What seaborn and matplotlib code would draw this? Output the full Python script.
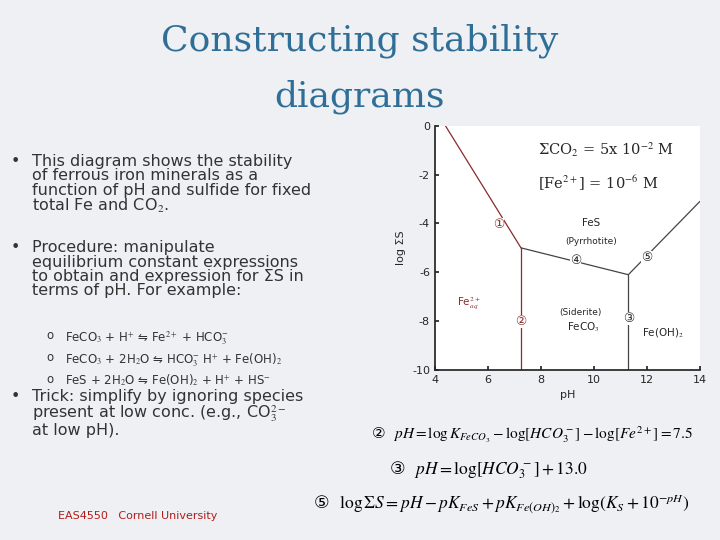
import matplotlib
matplotlib.use("Agg")
import matplotlib.pyplot as plt
import seaborn as sns

sns.set_theme(style="ticks")
plt.rcParams['font.family'] = ['DejaVu Sans']
plt.rcParams['axes.unicode_minus'] = False
plt.rcParams['mathtext.fontset'] = 'stix'

# boundary lines (pH, log ΣS)
line1_ph = [4.4, 7.25]; line1_s = [0.0, -5.0]
line2_ph = [7.25, 7.25]; line2_s = [-5.0, -10.0]
line4_ph = [7.25, 11.3]; line4_s = [-5.0, -6.1]
line3_ph = [11.3, 11.3]; line3_s = [-6.1, -10.0]
line5_ph = [11.3, 14.0]; line5_s = [-6.1, -3.1]
xticks = [4, 6, 8, 10, 12, 14]
yticks = [0, -2, -4, -6, -8, -10]

fig = plt.figure(figsize=(7.2, 5.4), dpi=100)
fig.patch.set_facecolor("#eef0f3")
ax = fig.add_axes([0.604, 0.315, 0.368, 0.452])
ax.set_facecolor("white")
red = "#8b2a2a"; grey = "#444444"
for xs, ys, c in [(line1_ph, line1_s, red), (line2_ph, line2_s, red),
                  (line4_ph, line4_s, grey), (line3_ph, line3_s, grey), (line5_ph, line5_s, grey)]:
    sns.lineplot(x=xs, y=ys, ax=ax, color=c, lw=0.9, sort=False, estimator=None)
ax.set_xlim(4, 14); ax.set_ylim(-10, 0)
ax.set_xticks(xticks); ax.set_yticks(yticks)
ax.tick_params(labelsize=8, direction="in", length=3)
ax.set_xlabel("pH", fontsize=8); ax.set_ylabel("log ΣS", fontsize=8)
for s in ["top", "right"]:
    ax.spines[s].set_visible(False)
kw = dict(fontsize=7.5)
wb = dict(fc="white", ec="none", pad=0)
ax.text(6.4, -4.05, "①", color=red, ha="center", va="center", fontsize=9, bbox=wb)
ax.text(7.25, -8.0, "②", color=red, ha="center", va="center", fontsize=9, bbox=wb)
ax.text(11.3, -7.9, "③", ha="center", va="center", fontsize=9, bbox=wb)
ax.text(9.3, -5.5, "④", ha="center", va="center", fontsize=9, bbox=wb)
ax.text(12.0, -5.4, "⑤", ha="center", va="center", fontsize=9, bbox=wb)
ax.text(9.9, -4.1, "FeS", ha="center", **kw)
ax.text(9.9, -4.85, "(Pyrrhotite)", ha="center", fontsize=6.5)
ax.text(9.5, -7.75, "(Siderite)", ha="center", fontsize=6.5)
ax.text(9.6, -8.4, "FeCO$_3$", ha="center", **kw)
ax.text(12.6, -8.6, "Fe(OH)$_2$", ha="center", **kw)
ax.text(5.3, -7.4, "Fe$^{2+}_{aq}$", color=red, ha="center", **kw)
ax.text(7.9, -1.2, "ΣCO$_2$ = 5x 10$^{-2}$ M", family="DejaVu Serif", fontsize=10.5)
ax.text(7.9, -2.6, "[Fe$^{2+}$] = 10$^{-6}$ M", family="DejaVu Serif", fontsize=10.5)

fig.text(0.50, 0.925, "Constructing stability", ha="center", va="center", family="DejaVu Serif", fontsize=26, color="#2f6f97")
fig.text(0.50, 0.82, "diagrams", ha="center", va="center", family="DejaVu Serif", fontsize=26, color="#2f6f97")

bul = dict(fontsize=11.5, color="#333333", va="top")
fig.text(0.015, 0.715, "•", **bul)
fig.text(0.045, 0.715, "This diagram shows the stability\nof ferrous iron minerals as a\nfunction of pH and sulfide for fixed\ntotal Fe and CO$_2$.", linespacing=0.95, **bul)
fig.text(0.015, 0.555, "•", **bul)
fig.text(0.045, 0.555, "Procedure: manipulate\nequilibrium constant expressions\nto obtain and expression for ΣS in\nterms of pH. For example:", linespacing=0.95, **bul)
sm = dict(fontsize=8.5, color="#333333", va="top")
for i, t in enumerate(["FeCO$_3$ + H$^{+}$ ⇋ Fe$^{2+}$ + HCO$_3^{-}$",
                       "FeCO$_3$ + 2H$_2$O ⇋ HCO$_3^{-}$ H$^{+}$ + Fe(OH)$_2$",
                       "FeS + 2H$_2$O ⇋ Fe(OH)$_2$ + H$^{+}$ + HS$^{-}$"]):
    fig.text(0.065, 0.39 - i * 0.04, "o", **sm)
    fig.text(0.09, 0.39 - i * 0.04, t, **sm)
fig.text(0.015, 0.28, "•", **bul)
fig.text(0.045, 0.28, "Trick: simplify by ignoring species\npresent at low conc. (e.g., CO$_3^{2-}$\nat low pH).", linespacing=0.95, **bul)

eq = dict(color="black", va="center")
fig.text(0.515, 0.195, "②  $pH = \\log K_{FeCO_3} - \\log[HCO_3^-] - \\log[Fe^{2+}] = 7.5$", fontsize=11, **eq)
fig.text(0.54, 0.13, "③  $pH = \\log[HCO_3^-] + 13.0$", fontsize=12.5, **eq)
fig.text(0.435, 0.065, "⑤  $\\log\\Sigma S = pH - pK_{FeS} + pK_{Fe(OH)_2} + \\log(K_S + 10^{-pH})$", fontsize=12.5, **eq)
fig.text(0.08, 0.045, "EAS4550   Cornell University", fontsize=8, color="#b31b1b", va="center")

fig.savefig("out.png", dpi=100, facecolor=fig.get_facecolor())
